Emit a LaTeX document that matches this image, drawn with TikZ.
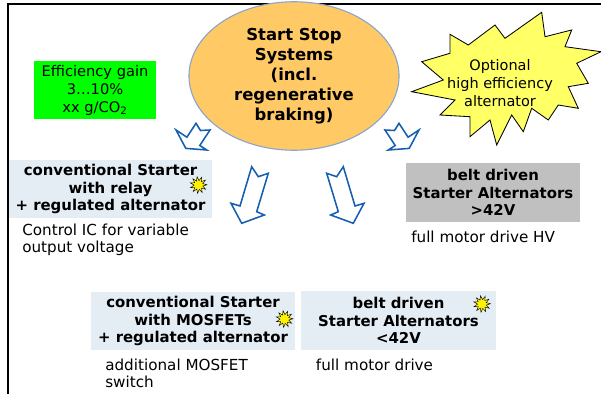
\documentclass[tikz,border=0pt]{standalone}
\usepackage{fontspec}
\setmainfont{DejaVu Sans}
\usetikzlibrary{shapes.geometric}

\definecolor{ovalorange}{RGB}{255,201,102}
\definecolor{ovalline}{RGB}{140,165,205}
\definecolor{gaingreen}{RGB}{0,255,0}
\definecolor{boxblue}{RGB}{228,236,244}
\definecolor{boxgray}{RGB}{192,192,192}
\definecolor{arrowblue}{RGB}{20,95,175}
\definecolor{burstyellow}{RGB}{255,255,102}

\begin{document}
\begin{tikzpicture}[x=0.025cm, y=-0.025cm,
    box/.style={minimum height=1.45cm, inner sep=0pt, align=center,
      font=\fontsize{10.6}{12.3}\selectfont\bfseries},
    note/.style={anchor=west, inner sep=0pt, align=left,
      font=\fontsize{10.8}{11.9}\selectfont},
    blockarrow/.style={draw=arrowblue, fill=white, line width=1.1pt, line join=miter},
    spark/.style={star, star points=11, star point ratio=1.9, minimum size=0.42cm,
      inner sep=0pt, fill=yellow, draw=black, line width=0.3pt, rotate=10}]

    \useasboundingbox (0,0) rectangle (601,394);

    % frame
    \draw[line width=2pt] (601,4) -- (8,4) -- (8,394);

    % centre oval
    \node[ellipse, fill=ovalorange, draw=ovalline, line width=0.8pt,
      minimum width=5.25cm, minimum height=3.6cm, align=center,
      font=\fontsize{11.7}{14.2}\selectfont\bfseries] (sss) at (294,76)
      {Start Stop\\Systems\\(incl.\\regenerative\\braking)};

    \node[fill=gaingreen, minimum width=3.05cm, minimum height=1.45cm, inner sep=0pt,
      align=center, font=\fontsize{10.4}{12.8}\selectfont] (gain) at (95,90)
      {Efficiency gain\\3…10\%\\xx g/CO\textsubscript{2}};

    % optional alternator burst
    \draw[fill=burstyellow, line width=0.6pt]
      (450,34.3) -- (468.3,45) -- (495,25) -- (505,38.3) -- (541.7,12.3)
      -- (545,36.7) -- (571.7,30) -- (565,46.7) -- (601,51.7) -- (576.7,63.3)
      -- (588.3,83.3) -- (568.3,86.7) -- (578.3,108.3) -- (558.3,105)
      -- (548.3,120) -- (531.7,108.3) -- (523.3,131.7) -- (511.7,115)
      -- (496.7,145) -- (490,120) -- (470,136.7) -- (470,116.7) -- (440,115)
      -- (455,100) -- (411.7,91.7) -- (443.3,80) -- (421.7,61.7) -- (450,53.3)
      -- cycle;
    \node[align=center, inner sep=0pt, font=\fontsize{10.3}{12.8}\selectfont]
      (optional) at (500,83) {Optional\\high efficiency\\alternator};

    % arrows
    \draw[blockarrow] (196,123.3) -- (200.5,130.5) -- (210,130) -- (199.8,145.5)
      -- (206.7,150) -- (185.8,148.4) -- (176,130) -- (186.9,137.2) -- cycle;
    \draw[blockarrow] (399,123.3) -- (394.5,130.5) -- (385,130) -- (395.2,145.5)
      -- (388.3,150) -- (409.2,148.4) -- (419,130) -- (408.1,137.2) -- cycle;
    \draw[blockarrow] (251.7,166.7) -- (258.3,176.7) -- (268.3,173.3) -- (256.7,211.7)
      -- (264.3,215) -- (241.7,223.3) -- (231,203.3) -- (240,206) -- cycle;
    \draw[blockarrow] (343.3,166.7) -- (336.7,176.7) -- (326.7,173.3) -- (338.3,211.7)
      -- (330.7,215) -- (353.3,223.3) -- (364,203.3) -- (355,206) -- cycle;

    % starter boxes
    \node[box, fill=boxblue, minimum width=5.075cm] (relay) at (110.5,189)
      {conventional Starter\\with relay\\+ regulated alternator};
    \node[spark] (relayspark) at (198.5,185) {};
    \node[note] (relaynote) at (22,240) {Control IC for variable\\output voltage};

    \node[box, fill=boxblue, minimum width=5.1cm] (mosfet) at (193,321)
      {conventional Starter\\with MOSFETs\\+ regulated alternator};
    \node[spark] (mosfetspark) at (284.5,319) {};
    \node[note] (mosfetnote) at (105,373.7) {additional MOSFET\\switch};

    \node[box, fill=boxgray, minimum width=4.35cm, minimum height=1.475cm] (hv)
      at (493,192.5) {belt driven\\Starter Alternators\\>42V};
    \node[note] (hvnote) at (411,237.3) {full motor drive HV};

    \node[box, fill=boxblue, minimum width=4.875cm, minimum height=1.475cm] (lv)
      at (398.5,320.5) {belt driven\\Starter Alternators\\<42V};
    \node[spark] (lvspark) at (482,304) {};
    \node[note] (lvnote) at (315.7,365) {full motor drive};

  \end{tikzpicture}
\end{document}
